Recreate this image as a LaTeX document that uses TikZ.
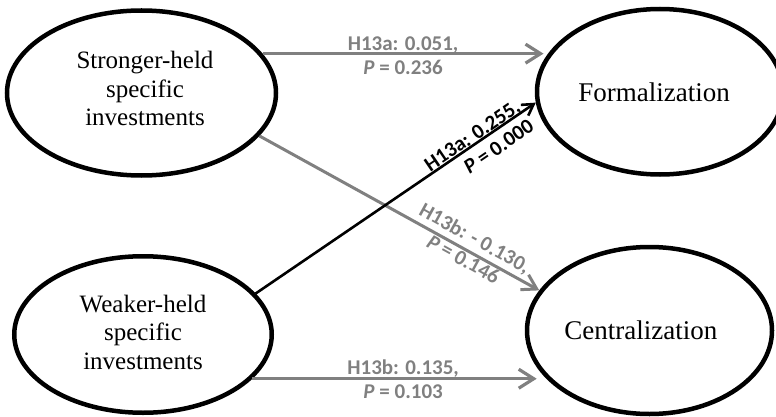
\documentclass[tikz,border=0pt]{standalone}
\usepackage{fontspec}
\setmainfont{Liberation Serif}
\newfontfamily\labelfont{Carlito}
\usetikzlibrary{arrows.meta,shapes.geometric}
\definecolor{pathgray}{RGB}{128,128,128}
\begin{document}
\begin{tikzpicture}[x=1pt,y=-1pt,
  construct/.style={draw=black, line width=4.5pt, ellipse, inner sep=0pt},
  srcname/.style={font=\fontsize{25}{28.8}\selectfont, align=center, inner sep=0pt},
  tgtname/.style={font=\fontsize{27}{31}\selectfont, inner sep=0pt},
  weakpath/.style={draw=pathgray, line width=3.2pt, -{Straight Barb[length=15pt,width=19pt]}},
  weakdiag/.style={draw=pathgray, line width=3pt, -{Straight Barb[length=14pt,width=17pt]}},
  strongpath/.style={draw=black, line width=2.6pt, -{Straight Barb[length=11pt,width=13pt]}},
  coef/.style={font=\labelfont\bfseries\fontsize{21}{24}\selectfont, inner sep=0pt},
]
\useasboundingbox (0,0) rectangle (776,417);

% constructs
\node[construct, minimum width=269pt, minimum height=165pt] (strong) at (141.5,93) {};
\node[construct, minimum width=257.5pt, minimum height=156.5pt] (weak) at (143,334.5) {};
\node[construct, minimum width=246pt, minimum height=165.5pt] (form) at (660,91.75) {};
\node[construct, minimum width=245pt, minimum height=167pt] (cent) at (649.5,330.5) {};

% construct names
\node[srcname] (strongname) at (145,88.6) {Stronger-held\\specific\\investments};
\node[srcname] (weakname) at (143,332.3) {Weaker-held\\specific\\investments};
\node[tgtname, anchor=base] (formname) at (654,101.7) {Formalization};
\node[tgtname, anchor=base] (centname) at (640.8,339) {Centralization};

% paths with coefficients
\draw[weakpath] (strong.18) -- (strong.18 -| form.165)
  node[coef, text=pathgray, pos=0.5, align=center, yshift=-2.2pt] (c1) {H13a: 0.051,\\\textit{P} = 0.236};
\draw[weakpath] (weak.-22) -- (weak.-22 -| cent.198)
  node[coef, text=pathgray, pos=0.53, align=center, yshift=-0.9pt] (c4) {H13b: 0.135,\\\textit{P} = 0.103};
\draw[weakdiag] (strong.-20) -- (cent.160)
  node[coef, text=pathgray, pos=0.745, sloped, align=center, yshift=3pt] (c3) {H13b: - 0.130,\\\textit{P} = 0.146};
\draw[strongpath] (weak.20) -- (form.185)
  node[coef, text=black, pos=0.79, sloped, align=right, yshift=-3.4pt] (c2) {H13a: 0.255,\\\textit{P} = 0.000};
\end{tikzpicture}
\end{document}
